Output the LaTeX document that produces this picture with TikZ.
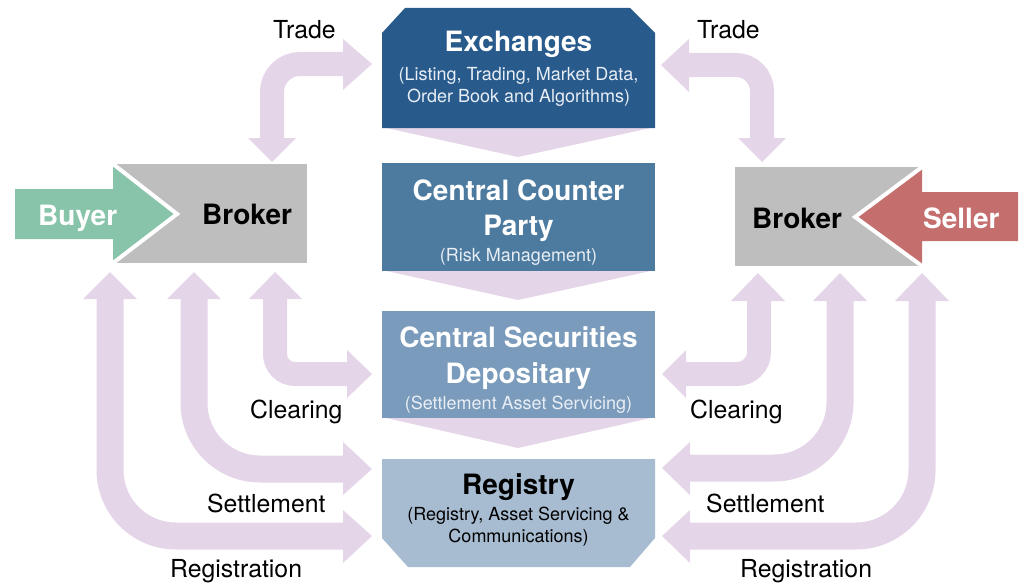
\documentclass[tikz,border=0pt]{standalone}
\usepackage{fontspec}
\setmainfont{TeX Gyre Heros}
\definecolor{flowpink}{RGB}{229,213,232}
\definecolor{exblue}{RGB}{40,90,140}
\definecolor{ccpblue}{RGB}{77,123,160}
\definecolor{csdblue}{RGB}{122,155,187}
\definecolor{regblue}{RGB}{167,188,209}
\definecolor{buygreen}{RGB}{136,196,170}
\definecolor{sellred}{RGB}{196,110,110}
\definecolor{brokgray}{RGB}{190,190,190}
\definecolor{subwhite}{RGB}{232,238,245}
\begin{document}
\begin{tikzpicture}[x=1pt,y=-1pt,
  shaft/.style={draw=flowpink, line width=24pt},
  wideshaft/.style={draw=flowpink, line width=27pt},
  head/.style={fill=flowpink},
  title/.style={font=\fontsize{28}{30}\selectfont\bfseries, text=white, anchor=base, inner sep=0pt},
  subt/.style={font=\fontsize{18}{20}\selectfont, text=subwhite, anchor=base, inner sep=0pt},
  lbl/.style={font=\fontsize{24.8}{26}\selectfont, text=black, anchor=base west, inner sep=0pt},
  party/.style={font=\fontsize{28}{30}\selectfont\bfseries, anchor=base west, inner sep=0pt}]
\useasboundingbox (0,0) rectangle (1019,586);

% ---------- pink chevrons between central boxes
\fill[flowpink] (382,127) -- (655,127) -- (518,157) -- cycle;
\fill[flowpink] (382,270) -- (655,270) -- (518,300) -- cycle;
\fill[flowpink] (382,417) -- (655,417) -- (518,448) -- cycle;

% ---------- connector end coordinates
\coordinate (ltA) at (272,138);  \coordinate (ltB) at (343,64);
\coordinate (rtA) at (762,138);  \coordinate (rtB) at (689,65);
\coordinate (lcA) at (275,299);  \coordinate (lcB) at (347,374);
\coordinate (lsA) at (194,299);  \coordinate (lsB) at (343,469);
\coordinate (lrA) at (110,299);  \coordinate (lrB) at (343,536);
\coordinate (rcA) at (759,301);  \coordinate (rcB) at (686,374);
\coordinate (rsA) at (840,301);  \coordinate (rsB) at (690,468);
\coordinate (rrA) at (922,301);  \coordinate (rrB) at (690,536);

% ---------- trade arrows
\draw[shaft, rounded corners=28pt] (ltA) |- (ltB);
\fill[head] (248,138) -- (296,138) -- (272,162) -- cycle;
\fill[head] (343,39) -- (343,90) -- (372,64) -- cycle;
\draw[shaft, rounded corners=26pt] (rtA) |- (rtB);
\fill[head] (738,138) -- (786,138) -- (762,162) -- cycle;
\fill[head] (689,39) -- (689,92) -- (661,65) -- cycle;

% ---------- left lower arrows
\draw[shaft, rounded corners=20pt] (lcA) |- (lcB);
\fill[head] (249,299) -- (302,299) -- (275,272) -- cycle;
\fill[head] (347,350) -- (347,398) -- (372,374) -- cycle;
\draw[wideshaft, rounded corners=66pt] (lsA) |- (lsB);
\fill[head] (167,299) -- (221,299) -- (194,272) -- cycle;
\fill[head] (343,442) -- (343,495) -- (372,469) -- cycle;
\draw[wideshaft, rounded corners=66pt] (lrA) |- (lrB);
\fill[head] (83,299) -- (137,299) -- (110,272) -- cycle;
\fill[head] (343,510) -- (343,563) -- (372,536) -- cycle;

% ---------- right lower arrows
\draw[shaft, rounded corners=22pt] (rcA) |- (rcB);
\fill[head] (731,301) -- (785,301) -- (758,273) -- cycle;
\fill[head] (686,350) -- (686,398) -- (662,374) -- cycle;
\draw[wideshaft, rounded corners=66pt] (rsA) |- (rsB);
\fill[head] (813,301) -- (867,301) -- (840,273) -- cycle;
\fill[head] (690,442) -- (690,495) -- (662,468) -- cycle;
\draw[wideshaft, rounded corners=66pt] (rrA) |- (rrB);
\fill[head] (895,301) -- (949,301) -- (922,273) -- cycle;
\fill[head] (690,510) -- (690,563) -- (662,536) -- cycle;

% ---------- central boxes
\fill[exblue] (382,33) -- (405,8) -- (630,8) -- (655,33) -- (655,128) -- (382,128) -- cycle;
\fill[ccpblue] (382,163) rectangle (655,271);
\fill[csdblue] (382,311) rectangle (655,418);
\fill[regblue] (382,459) -- (655,459) -- (655,538) -- (630,567) -- (408,567) -- (382,538) -- cycle;

\node[title] (ex1) at (518.5,52) {Exchanges};
\node[subt] (ex2) at (518.5,80) {(Listing, Trading, Market Data,};
\node[subt] (ex3) at (518.5,102) {Order Book and Algorithms)};

\node[title] (ccp1) at (518.5,200) {Central Counter};
\node[title] (ccp2) at (518.5,235) {Party};
\node[subt] (ccp3) at (518.5,261) {(Risk Management)};

\node[title] (csd1) at (518.5,347) {Central Securities};
\node[title] (csd2) at (518.5,383) {Depositary};
\node[subt] (csd3) at (518.5,409) {(Settlement Asset Servicing)};

\node[title, text=black] (reg1) at (518.5,494) {Registry};
\node[subt, text=black] (reg2) at (518.5,520) {(Registry, Asset Servicing \&};
\node[subt, text=black] (reg3) at (518.5,542) {Communications)};

% ---------- left broker and buyer
\fill[brokgray] (113,164) rectangle (307,263);
\fill[buygreen] (15,189) -- (113,189) -- (113,164) -- (177,214) -- (113,263) -- (113,239) -- (15,239) -- cycle;
\draw[white, line width=4pt] (113,164) -- (177,214) -- (113,263);
\node[party, text=white] (buyer) at (38,225) {Buyer};
\node[party, text=black] (lbroker) at (202,224) {Broker};

% ---------- right broker and seller
\fill[brokgray] (735,167) rectangle (922,266);
\fill[sellred] (1018,192) -- (922,192) -- (922,167) -- (855,217) -- (922,266) -- (922,241) -- (1018,241) -- cycle;
\draw[white, line width=4pt] (922,167) -- (855,217) -- (922,266);
\node[party, text=black] (rbroker) at (752,228) {Broker};
\node[party, text=white] (seller) at (923,228) {Seller};

% ---------- labels
\node[lbl] (tradeL) at (273,39) {Trade};
\node[lbl] (tradeR) at (697,39) {Trade};
\node[lbl] (clearL) at (250,418) {Clearing};
\node[lbl] (clearR) at (690,418) {Clearing};
\node[lbl] (settL) at (207,512) {Settlement};
\node[lbl] (settR) at (706,512) {Settlement};
\node[lbl] (regL) at (170,577) {Registration};
\node[lbl] (regR) at (740,577) {Registration};
\end{tikzpicture}
\end{document}
